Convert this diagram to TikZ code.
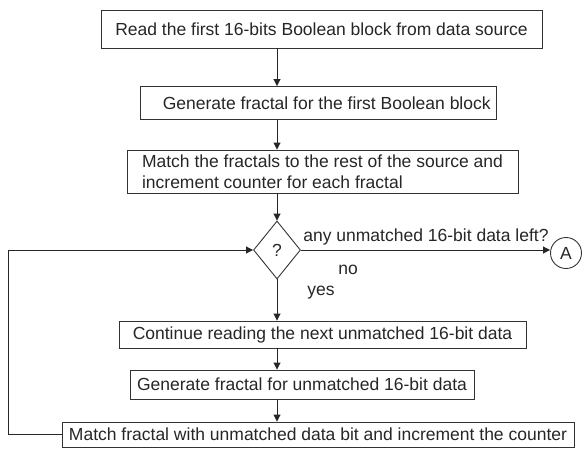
\documentclass[tikz,border=0pt]{standalone}
\usepackage{fontspec}
\setmainfont{Liberation Sans}
\usetikzlibrary{arrows.meta,shapes.geometric}
\begin{document}
\begin{tikzpicture}[x=1pt,y=-1pt,
  every node/.style={font=\fontsize{17.5}{21}\selectfont, text=black!85},
  stepbox/.style={draw=black!80, line width=0.9pt, inner sep=0pt, align=center},
  decision/.style={draw=black!80, line width=0.9pt, diamond, inner sep=0pt, minimum width=47pt, minimum height=58pt},
  conn/.style={circle, draw=black!80, line width=0.9pt, minimum size=31pt, inner sep=0pt},
  flow/.style={draw=black!85, line width=0.9pt, -{Triangle[length=7pt,width=7pt]}},
  lbl/.style={inner sep=0pt}]
\useasboundingbox (0,0) rectangle (586,450);
\node[stepbox, minimum width=441pt, minimum height=38pt] (b1) at (321.5,29) {Read the first 16-bits Boolean block from data source};
\node[stepbox, minimum width=356pt, minimum height=33pt] (b2) at (318,103) {\quad Generate fractal for the first Boolean block};
\node[stepbox, minimum width=391pt, minimum height=43pt, align=left] (b3) at (322.5,171.5) {Match the fractals to the rest of the source and\\increment counter for each fractal};
\node[decision] (d) at (277,250) {?};
\node[stepbox, minimum width=407pt, minimum height=27pt] (b4) at (322.5,334.5) {Continue reading the next unmatched 16-bit data};
\node[stepbox, minimum width=344pt, minimum height=29pt] (b5) at (302,384.5) {Generate fractal for unmatched 16-bit data};
\node[stepbox, minimum width=512pt, minimum height=25pt] (b6) at (318,434.5) {Match fractal with unmatched data bit and increment the counter};
\node[conn] (a) at (566,253) {A};
\coordinate (lx) at (8,0);
\draw[flow] (b1.south -| d.north) -- (b2.north -| d.north);
\draw[flow] (b2.south -| d.north) -- (b3.north -| d.north);
\draw[flow] (b3.south -| d.north) -- (d.north);
\draw[flow] (d.south) -- (b4.north -| d.south);
\draw[flow] (b4.south -| d.south) -- (b5.north -| d.south);
\draw[flow] (b5.south -| d.south) -- (b6.north -| d.south);
\draw[flow] (d.east) -- node[lbl, pos=0, anchor=south west, xshift=2pt, yshift=4pt] (q) {any unmatched 16-bit data left?} (a.west |- d.east);
\draw[flow] (b6.west) -- (b6.west -| lx) -- (lx |- d.west) -- (d.west);
\node[lbl] (no) at (348,270) {no};
\node[lbl] (yes) at (321,293) {yes};
\end{tikzpicture}
\end{document}
